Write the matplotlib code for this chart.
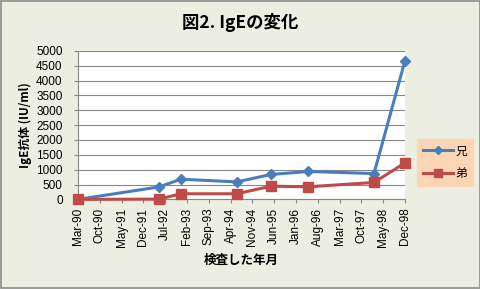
import matplotlib
matplotlib.use("Agg")
import matplotlib.pyplot as plt
import matplotlib.dates as mdates
from matplotlib.patches import Rectangle
from datetime import date

plt.rcParams['font.family'] = ['Noto Sans CJK JP', 'DejaVu Sans']

# data
dates = [date(1990, 3, 1), date(1992, 5, 1), date(1992, 12, 1), date(1994, 6, 1),
         date(1995, 5, 1), date(1996, 5, 1), date(1998, 2, 1), date(1998, 12, 1)]
ani = [0, 420, 680, 590, 840, 940, 870, 4670]      # 兄
oto = [0, 10, 190, 190, 445, 425, 570, 1230]       # 弟
tick_dates = [date(1990 + (2 + 7 * k) // 12, (2 + 7 * k) % 12 + 1, 1) for k in range(16)]
y_ticks = list(range(0, 5001, 500))

bg = '#ECEEE1'
blue = '#4A7EBB'
red = '#BE4B48'

fig = plt.figure(figsize=(4.81, 2.89), dpi=100, facecolor=bg)
fig.patches.append(Rectangle((0.002, 0.003), 0.996, 0.994, transform=fig.transFigure,
                             fill=False, edgecolor='#8c8c8c', lw=1.2))
ax = fig.add_axes([0.162, 0.31, 0.68, 0.514])
ax.set_facecolor('white')

ax.plot(dates, ani, color=blue, lw=2.2, marker='D', ms=5.5, label='兄', clip_on=False, zorder=3)
ax.plot(dates, oto, color=red, lw=2.2, marker='s', ms=7, label='弟', clip_on=False, zorder=3)

ax.set_xlim(tick_dates[0], tick_dates[-1])
ax.set_ylim(0, 5000)
ax.set_xticks(tick_dates)
ax.xaxis.set_major_formatter(mdates.DateFormatter('%b-%y'))
ax.set_yticks(y_ticks)
ax.tick_params(axis='x', labelrotation=90, length=3, color='#878787', pad=3)
ax.tick_params(axis='y', length=3, color='#878787', pad=8)
for lab in ax.get_xticklabels() + ax.get_yticklabels():
    lab.set_fontfamily('Liberation Sans')
    lab.set_fontsize(8.5)
ax.yaxis.grid(True, color='#878787', lw=0.8)
ax.set_axisbelow(True)
for s in ['top', 'right']:
    ax.spines[s].set_visible(False)
for s in ['left', 'bottom']:
    ax.spines[s].set_color('#878787')

ax.set_ylabel('IgE抗体 (IU/ml)', fontsize=8.5, fontweight='bold', labelpad=3)
ax.set_xlabel('検査した年月', fontsize=9, fontweight='bold', labelpad=5)
fig.text(0.5, 0.922, '図2. IgEの変化', ha='center', va='center', fontsize=12.5, fontweight='bold')

leg = ax.legend(loc='center left', bbox_to_anchor=(1.02, 0.25), fontsize=8.5, frameon=True,
                fancybox=False, handlelength=2.5, borderpad=0.5, labelspacing=0.8, handletextpad=0.2,
                markerscale=0.8)
leg.get_frame().set_facecolor('#FCD5B5')
leg.get_frame().set_edgecolor('#FCD5B5')
leg.get_frame().set_alpha(1)

fig.savefig('out.png', dpi=100, facecolor=bg)
